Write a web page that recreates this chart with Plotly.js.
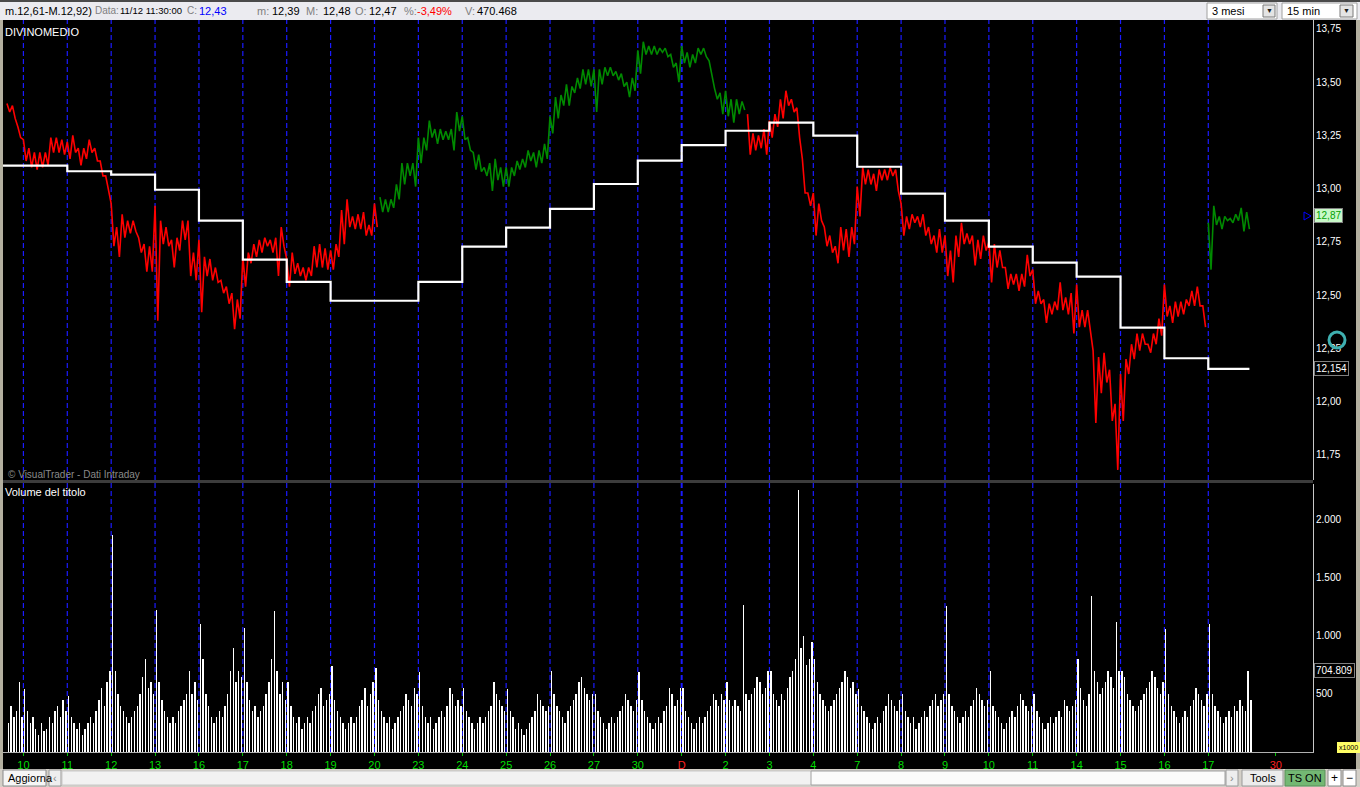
<!DOCTYPE html>
<html><head><meta charset="utf-8">
<script src="https://cdn.plot.ly/plotly-3.0.1.min.js"></script>
<style>html,body{margin:0;padding:0;background:#000;overflow:hidden}#chart{width:1360px;height:787px}</style>
</head><body><div id="chart"></div>
<script>
// ---------- DATA (15-min chart; price sampled 8 per day, volume 16 per day; leading samples = end of previous session) ----------
const dayLabels = ["10","11","12","13","16","17","18","19","20","23","24","25","26","27","30","D","2","3","4","7","8","9","10","11","14","15","16","17"];
const extraLabel = "30";
const extraLabelPos = 28.54;

const priceHigh = [
 13.40,13.39,13.29,
 13.23,13.19,13.17,13.17,13.17,13.24,13.24,13.23,
 13.22,13.25,13.19,13.19,13.23,13.19,13.13,13.06,
 12.93,12.82,12.88,12.85,12.85,12.77,12.74,12.73,
 12.92,12.85,12.82,12.76,12.77,12.85,12.85,12.70,
 12.76,12.68,12.67,12.63,12.57,12.54,12.51,12.48,
 12.68,12.70,12.74,12.76,12.77,12.76,12.77,12.82,
 12.67,12.70,12.65,12.63,12.63,12.73,12.74,12.72,
 12.71,12.74,12.90,12.95,12.87,12.88,12.89,12.83,
 12.93,12.96,12.95,12.95,13.02,13.12,13.12,13.12,
 13.24,13.24,13.32,13.28,13.28,13.27,13.28,13.36,
 13.34,13.24,13.17,13.16,13.10,13.12,13.14,13.10,
 13.10,13.10,13.13,13.14,13.18,13.17,13.18,13.21,
 13.34,13.43,13.44,13.49,13.48,13.52,13.56,13.56,
 13.56,13.56,13.57,13.57,13.55,13.54,13.50,13.52,
 13.65,13.69,13.67,13.67,13.66,13.66,13.63,13.59,
 13.67,13.64,13.63,13.66,13.66,13.60,13.47,13.45,
 13.46,13.42,13.42,13.41,13.35,13.26,13.25,13.28,
 13.32,13.35,13.42,13.46,13.42,13.38,13.14,12.98,
 12.98,12.93,12.82,12.78,12.73,12.82,12.81,12.82,
 13.01,13.10,13.09,13.07,13.09,13.09,13.10,13.09,
 12.93,12.87,12.88,12.87,12.88,12.82,12.78,12.81,
 12.78,12.71,12.78,12.84,12.79,12.78,12.76,12.78,
 12.75,12.74,12.71,12.63,12.60,12.60,12.60,12.69,
 12.62,12.52,12.48,12.46,12.47,12.56,12.49,12.51,
 12.55,12.43,12.43,12.24,12.21,12.23,12.15,11.99,
 12.13,12.20,12.27,12.32,12.32,12.27,12.32,12.39,
 12.55,12.45,12.47,12.47,12.48,12.52,12.54,12.45,
 12.84,12.92,12.87,12.87,12.86,12.88,12.91,12.89
];
const priceLow = [
 13.36,13.33,13.24,
 13.13,13.10,13.09,13.10,13.11,13.17,13.17,13.16,
 13.14,13.17,13.11,13.14,13.17,13.13,13.06,12.99,
 12.73,12.68,12.77,12.79,12.80,12.70,12.61,12.61,
 12.38,12.74,12.73,12.63,12.71,12.76,12.59,12.57,
 12.42,12.59,12.57,12.56,12.51,12.46,12.34,12.39,
 12.54,12.65,12.68,12.70,12.73,12.70,12.59,12.73,
 12.54,12.60,12.59,12.57,12.59,12.63,12.63,12.62,
 12.62,12.68,12.74,12.82,12.81,12.81,12.78,12.78,
 12.82,12.89,12.89,12.91,12.95,13.02,13.06,13.01,
 13.12,13.18,13.24,13.21,13.23,13.23,13.18,13.27,
 13.23,13.18,13.09,13.08,13.06,12.99,13.04,13.01,
 13.01,13.06,13.09,13.10,13.13,13.10,13.12,13.14,
 13.26,13.33,13.39,13.39,13.45,13.47,13.49,13.48,
 13.36,13.49,13.53,13.53,13.51,13.48,13.43,13.46,
 13.54,13.63,13.63,13.63,13.64,13.62,13.57,13.50,
 13.59,13.57,13.59,13.63,13.62,13.53,13.42,13.35,
 13.34,13.31,13.35,13.37,13.16,13.18,13.19,13.16,
 13.24,13.29,13.33,13.39,13.36,13.24,12.98,12.92,
 12.78,12.85,12.73,12.70,12.65,12.71,12.68,12.74,
 12.87,13.02,13.02,12.99,13.04,13.04,13.06,12.99,
 12.78,12.81,12.84,12.82,12.78,12.74,12.70,12.70,
 12.59,12.56,12.68,12.74,12.74,12.64,12.67,12.71,
 12.56,12.63,12.63,12.53,12.55,12.52,12.54,12.59,
 12.46,12.46,12.37,12.41,12.43,12.43,12.41,12.32,
 12.35,12.35,12.34,11.90,12.04,12.09,11.91,11.68,
 11.91,12.13,12.20,12.24,12.27,12.23,12.27,12.31,
 12.40,12.37,12.40,12.41,12.45,12.45,12.45,12.35,
 12.62,12.83,12.81,12.85,12.84,12.85,12.80,12.81
];
// sample-index spans drawn in green (rising phase)
const greenSpans = [[68,134],[219,226]];

// DIVINOMEDIO daily level (previous session, then one per labelled day)
const dayAverage = [13.108,13.108,13.082,13.066,12.995,12.850,12.667,12.563,12.474,12.474,12.563,12.728,12.817,12.905,13.022,13.132,13.205,13.272,13.310,13.249,13.103,12.977,12.850,12.728,12.653,12.587,12.348,12.204,12.154];

// volume (thousands), 16 per day
const volume = [
 250,400,300,350,600,300,
 540,350,250,300,200,150,250,180,200,300,250,350,400,300,450,350,
 480,300,250,200,250,150,200,250,300,250,350,450,550,400,600,700,
 1870,700,500,400,350,300,250,300,350,400,500,650,800,550,600,500,
 1224,600,450,350,300,250,300,250,350,400,450,500,700,500,600,450,
 1103,800,500,400,300,250,300,350,300,400,500,700,900,600,700,650,
 1069,600,450,350,400,300,350,400,500,600,800,1215,700,500,600,450,
 600,400,300,250,300,200,250,300,250,350,400,500,550,400,450,500,
 741,450,350,300,250,200,250,300,250,300,400,450,550,400,500,600,
 720,450,350,300,250,300,200,250,300,350,400,500,450,400,550,500,
 690,400,300,250,300,200,250,300,350,300,400,550,500,400,450,400,
 550,350,300,250,200,250,300,250,300,350,400,600,500,450,400,350,
 540,350,300,200,250,200,150,200,250,300,350,500,450,400,350,400,
 700,500,400,350,300,250,350,400,450,500,600,650,550,500,450,500,
 500,350,300,250,200,250,300,250,300,350,400,500,450,400,350,450,
 690,450,350,300,250,200,250,300,250,350,400,550,500,400,450,550,
 550,350,300,250,200,250,300,250,300,350,400,500,450,400,500,450,
 600,450,400,450,400,350,1267,500,450,500,550,650,600,500,550,700,
 700,500,450,400,500,450,550,650,700,800,2259,900,1000,750,800,950,
 800,600,500,450,400,350,400,450,500,550,600,700,650,550,600,500,
 540,400,350,300,250,200,250,300,250,350,400,500,450,400,350,450,
 500,350,300,250,300,200,250,300,350,300,400,450,500,400,450,500,
 1259,500,400,350,300,250,300,350,300,400,450,550,500,450,400,450,
 700,400,350,300,250,200,250,300,350,300,400,500,450,400,350,400,
 500,350,300,250,200,250,300,250,300,350,300,450,400,350,400,450,
 800,550,450,400,500,1345,700,600,500,550,600,700,650,550,1120,700,
 700,650,500,450,400,350,400,450,500,550,600,700,650,550,500,600,
 1060,500,400,350,300,250,300,350,300,400,450,550,500,450,400,500,
 1100,500,400,350,300,250,300,350,300,400,350,450,400,350,700,450
];
const priceTicks = [11.75,12.00,12.25,12.50,12.75,13.00,13.25,13.50,13.75];
const volumeTicks = [500,1000,1500,2000];
const lastPrice = 12.87, lastAverage = 12.154, lastVolume = 704.809;

// ---------- BUILD ----------
const PER_DAY = 8, PRE = 3, VOL_PER_DAY = 16, VOL_PRE = 6;
const n = priceHigh.length;
const sx = s => (s - PRE) / PER_DAY;
const vx = i => (i - VOL_PRE) / VOL_PER_DAY + 0.5 / VOL_PER_DAY;
const isGreen = s => greenSpans.some(([a,b]) => s >= a && s <= b);

function zig(green){
  const X=[],Y=[];
  for(let s=0;s<n;s++){
    if(isGreen(s)!==green){ X.push(null); Y.push(null); continue; }
    X.push(sx(s), sx(s)+0.5/PER_DAY); Y.push(priceHigh[s], priceLow[s]);
  }
  return {X,Y};
}
const redLine = zig(false), grnLine = zig(true);
const lastX = sx(n-1)+0.5/PER_DAY;
const stepX = dayAverage.map((v,i)=> i-1).concat([lastX]);
const stepY = dayAverage.concat([dayAverage[dayAverage.length-1]]);

const traces = [
  {type:'bar', x: volume.map((v,i)=>vx(i)), y: volume, xaxis:'x', yaxis:'y2',
   width: volume.map(()=>0.032), marker:{color:'#ffffff', line:{width:0}}, hoverinfo:'skip'},
  {type:'scatter', mode:'lines', x: redLine.X, y: redLine.Y, line:{color:'#ff0000', width:1.6}, connectgaps:false, hoverinfo:'skip'},
  {type:'scatter', mode:'lines', x: grnLine.X, y: grnLine.Y, line:{color:'#008a00', width:1.6}, connectgaps:false, hoverinfo:'skip'},
  {type:'scatter', mode:'lines', x: stepX, y: stepY, line:{color:'#ffffff', width:2.2, shape:'hv'}, hoverinfo:'skip'}
];

// ---------- LAYOUT / CHROME ----------
const L=3, R=1313, T=20, B=752;
const px = v => (v-L)/(R-L), py = v => (B-v)/(B-T);
const F = "Liberation Sans, Arial, sans-serif";
const shapeList = [];
const annList = [];
function rect(x0,y0,x1,y1,fill,line,lw){ shapeList.push({type:'rect',xref:'paper',yref:'paper',x0:px(x0),x1:px(x1),y0:py(y1),y1:py(y0),fillcolor:fill,line:{color:line||fill,width:lw===undefined?(line?1:0):lw},layer:'above'}); }
function text(t,x,y,color,size,anchor,bg,border){ const a={text:t,x:px(x),y:py(y),xref:'paper',yref:'paper',xanchor:anchor||'left',yanchor:'middle',showarrow:false,font:{family:F,size:size||11,color:color||'#000'}}; if(bg){a.bgcolor=bg;a.bordercolor=border||bg;a.borderwidth=1;a.borderpad=1;} annList.push(a); }

// day separators
for(let k=0;k<dayLabels.length;k++){
  shapeList.push({type:'line',xref:'x',yref:'paper',x0:k,x1:k,y0:0,y1:1,line:{color:'#1a1aff',width:(dayLabels[k]==='D')?2:1.2,dash:'5px,3px'},layer:'below'});
}
// top bar
rect(0,0,1360,20,'#ebebf0');
rect(0,0,1360,2,'#4a4a4a');
// left / right frame
rect(0,20,3,769,'#b4b0a0');
rect(1356,20,1360,769,'#b4b0a0');
// divider between panels
rect(3,480,1313,483,'#3c3c3c');
// bottom toolbar
rect(0,769,1360,787,'#d4d0c8');
rect(3,770,46,786,'#f6f6f6','#8a8a8a');
rect(49,770,61,786,'#eeeeee','#9a9a9a');
rect(62,771,1226,785,'#f2f2f2','#c8c8c8');
rect(811,771,1225,785,'#fbfbfb','#a0a0a0');
rect(1226,770,1238,786,'#eeeeee','#9a9a9a');
rect(1242,770,1283,786,'#ececec','#9a9a9a');
rect(1285,770,1325,786,'#73b873','#5a8f5a');
rect(1328,770,1341,786,'#ffffff','#8a8a8a');
rect(1343,770,1356,786,'#ffffff','#8a8a8a');
// dropdowns
rect(1207,3,1277,19,'#ffffff','#a0a0a0');
rect(1263,5,1275,17,'#e4e4e4','#7a7a7a');
rect(1282,3,1357,19,'#ffffff','#a0a0a0');
rect(1340,5,1353,17,'#e4e4e4','#7a7a7a');
// teal busy ring
shapeList.push({type:'circle',xref:'paper',yref:'paper',x0:px(1329),x1:px(1345),y0:py(348),y1:py(332),line:{color:'#3fb0b0',width:3},layer:'above'});
// last-price marker triangle
shapeList.push({type:'path',xref:'paper',yref:'paper',path:`M${px(1304)},${py(212)} L${px(1304)},${py(220)} L${px(1311)},${py(216)} Z`,line:{color:'#0000ff',width:1},layer:'above'});

// texts
const topTexts = [["m.12,61-M.12,92)",3,'#000',11],["Data:",93,'#808080',10],["11/12 11:30:00",118,'#000',9.5],["C:",185,'#808080',10],["12,43",197,'#0000ff',11],
 ["m:",255,'#808080',11],["12,39",270,'#000',11],["M:",304,'#808080',11],["12,48",321,'#000',11],["O:",353,'#808080',11],["12,47",367,'#000',11],
 ["%:",402,'#808080',11],["-3,49%",415,'#ff0000',11],["V:",463,'#808080',11],["470.468",475,'#000',11]];
topTexts.forEach(t=>text(t[0],t[1],11,t[2],t[3]));
text("3 mesi",1210,11,'#000',11);
text("15 min",1285,11,'#000',11);
text("▼",1269,11,'#202020',7,'center');
text("▼",1346.5,11,'#202020',7,'center');
text("DIVINOMEDIO",3,32,'#ffffff',11);
text("© VisualTrader - Dati Intraday",6,474,'#8a8a8a',10);
text("Volume del titolo",3,492,'#ffffff',11);
text("Aggiorna",6,778,'#000',11);
text("‹",55,778,'#888',11,'center');
text("›",1232,778,'#888',11,'center');
text("Tools",1262.5,778,'#000',11,'center');
text("TS ON",1305,778,'#000',11,'center');
text("+",1334.5,778,'#000',12,'center');
text("−",1349.5,778,'#000',12,'center');
text(lastPrice.toFixed(2).replace('.',','),1314,216,'#00a000',10,'left','#c8f8c8','#808080');
text(lastAverage.toFixed(3).replace('.',','),1314,368,'#ffffff',10,'left','#000000','#808080');
text(lastVolume.toFixed(3),1314,670,'#ffffff',10,'left','#000000','#808080');
text("x1000",1337,747,'#000',7,'left','#ffff66','#ffff66');

const tickvals = dayLabels.map((d,i)=>i).concat([extraLabelPos]);
const ticktext = dayLabels.map(d=> d==='D' ? '<span style="color:#ff2020">D</span>' : d).concat(['<span style="color:#ff2020">'+extraLabel+'</span>']);

const layout = {
  width:1360, height:787, margin:{l:L, r:1360-R, t:T, b:787-B, pad:0},
  paper_bgcolor:'#000', plot_bgcolor:'#000', separators:',.', showlegend:false, bargap:0,
  xaxis:{domain:[0,1], anchor:'y2', range:[-0.465,29.386], tickmode:'array', tickvals:tickvals, ticktext:ticktext,
    ticks:'outside', ticklen:3, tickcolor:'#00c000', tickfont:{family:F,size:11,color:'#00dd00'},
    showgrid:false, zeroline:false, showline:true, linecolor:'#b0b0b0', linewidth:1, fixedrange:true},
  yaxis:{domain:[(B-480)/(B-T),1], anchor:'x', side:'right', range:[11.6325,13.792], tickmode:'array', tickvals:priceTicks,
    tickformat:'.2f', ticks:'', tickfont:{family:F,size:10,color:'#ffffff'}, showgrid:false, zeroline:false,
    showline:true, linecolor:'#c8c8c8', linewidth:1, fixedrange:true},
  yaxis2:{domain:[0,(B-484)/(B-T)], anchor:'x', side:'right', range:[0,2310], tickmode:'array', tickvals:volumeTicks,
    tickformat:',d', ticks:'', tickfont:{family:F,size:10,color:'#ffffff'}, showgrid:false, zeroline:false,
    showline:true, linecolor:'#c8c8c8', linewidth:1, fixedrange:true},
  shapes:shapeList, annotations:annList
};
Plotly.newPlot('chart', traces, layout, {staticPlot:true, displayModeBar:false});
</script></body></html>
